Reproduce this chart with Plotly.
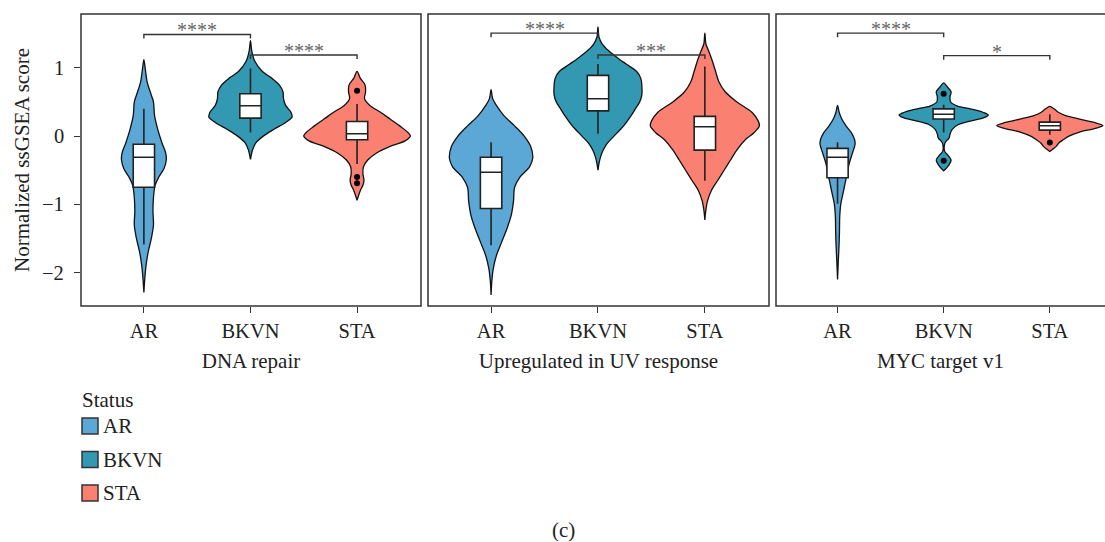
import plotly.graph_objects as go

# ---------------------------------------------------------------- data
GROUPS = ["AR", "BKVN", "STA"]
PANELS = ["DNA repair", "Upregulated in UV response", "MYC target v1"]
COLORS = {"AR": "#5BA7D6", "BKVN": "#3399B3", "STA": "#FA8072"}

Y_TICKS = [-2, -1, 0, 1]
Y_TITLE = "Normalized ssGSEA score"

# Violin outlines: (score, half-width in category units), top to bottom
DNA_AR = [(1.12, 0), (1.0, 0.012), (0.8, 0.03), (0.6, 0.07), (0.5, 0.09), (0.3, 0.10),
          (0.1, 0.13), (-0.1, 0.17), (-0.25, 0.205), (-0.35, 0.21), (-0.47, 0.19),
          (-0.6, 0.14), (-0.72, 0.105), (-0.9, 0.09), (-1.1, 0.085), (-1.3, 0.09),
          (-1.5, 0.07), (-1.7, 0.04), (-1.9, 0.02), (-2.1, 0.008), (-2.29, 0)]
DNA_BKVN = [(1.40, 0), (1.25, 0.012), (1.1, 0.04), (0.95, 0.11), (0.85, 0.20), (0.75, 0.27),
            (0.65, 0.305), (0.55, 0.31), (0.45, 0.33), (0.35, 0.38), (0.28, 0.39),
            (0.2, 0.33), (0.1, 0.22), (0.0, 0.12), (-0.1, 0.05), (-0.2, 0.02), (-0.34, 0)]
DNA_STA = [(0.95, 0), (0.85, 0.03), (0.75, 0.075), (0.65, 0.08), (0.55, 0.07), (0.45, 0.12),
           (0.35, 0.22), (0.25, 0.31), (0.15, 0.40), (0.05, 0.48), (0.0, 0.50),
           (-0.07, 0.45), (-0.15, 0.31), (-0.25, 0.18), (-0.35, 0.10), (-0.45, 0.06),
           (-0.55, 0.055), (-0.65, 0.065), (-0.72, 0.055), (-0.8, 0.03), (-0.94, 0)]

UV_AR = [(0.68, 0), (0.55, 0.015), (0.45, 0.05), (0.30, 0.12), (0.15, 0.22), (0.0, 0.31),
         (-0.15, 0.37), (-0.32, 0.39), (-0.45, 0.36), (-0.6, 0.27), (-0.75, 0.22),
         (-0.95, 0.21), (-1.15, 0.19), (-1.35, 0.15), (-1.55, 0.10), (-1.75, 0.05),
         (-1.95, 0.02), (-2.15, 0.006), (-2.33, 0)]
UV_BKVN = [(1.60, 0), (1.45, 0.01), (1.35, 0.04), (1.25, 0.10), (1.15, 0.18), (1.05, 0.27),
           (0.95, 0.36), (0.85, 0.40), (0.75, 0.41), (0.60, 0.41), (0.50, 0.39),
           (0.40, 0.35), (0.30, 0.31), (0.15, 0.24), (0.0, 0.15), (-0.1, 0.09),
           (-0.2, 0.05), (-0.3, 0.025), (-0.4, 0.01), (-0.50, 0)]
UV_STA = [(1.51, 0), (1.35, 0.01), (1.25, 0.035), (1.10, 0.07), (0.95, 0.10), (0.80, 0.13),
          (0.65, 0.19), (0.50, 0.30), (0.35, 0.44), (0.22, 0.50), (0.15, 0.51),
          (0.05, 0.46), (-0.05, 0.38), (-0.2, 0.30), (-0.35, 0.24), (-0.5, 0.18),
          (-0.65, 0.12), (-0.8, 0.06), (-0.95, 0.025), (-1.1, 0.008), (-1.23, 0)]

MYC_AR = [(0.45, 0), (0.35, 0.015), (0.25, 0.04), (0.15, 0.08), (0.05, 0.13), (-0.05, 0.16),
          (-0.12, 0.165), (-0.25, 0.14), (-0.40, 0.11), (-0.55, 0.09), (-0.7, 0.07),
          (-0.85, 0.05), (-1.0, 0.03), (-1.2, 0.02), (-1.4, 0.018), (-1.6, 0.014),
          (-1.8, 0.008), (-2.10, 0)]
MYC_BKVN = [(0.78, 0), (0.72, 0.035), (0.65, 0.07), (0.58, 0.06), (0.50, 0.065), (0.44, 0.13),
            (0.40, 0.25), (0.35, 0.37), (0.31, 0.42), (0.27, 0.38), (0.22, 0.25),
            (0.17, 0.14), (0.10, 0.08), (0.03, 0.06), (-0.03, 0.05), (-0.08, 0.02),
            (-0.12, 0.008), (-0.22, 0.008), (-0.28, 0.04), (-0.35, 0.07), (-0.42, 0.05),
            (-0.51, 0)]
MYC_STA = [(0.435, 0), (0.40, 0.04), (0.35, 0.08), (0.30, 0.15), (0.25, 0.28), (0.20, 0.42),
           (0.155, 0.50), (0.11, 0.42), (0.06, 0.28), (0.0, 0.18), (-0.05, 0.13),
           (-0.10, 0.085), (-0.15, 0.06), (-0.19, 0.03), (-0.225, 0)]

# Box summaries per panel, in GROUPS order
DNA_LOW = [-1.59, 0.054, -0.41]
DNA_Q1 = [-0.75, 0.264, -0.054]
DNA_MED = [-0.31, 0.445, 0.034]
DNA_Q3 = [-0.12, 0.62, 0.215]
DNA_HIGH = [0.40, 0.99, 0.47]

UV_LOW = [-1.60, 0.034, -0.655]
UV_Q1 = [-1.06, 0.37, -0.205]
UV_MED = [-0.53, 0.548, 0.137]
UV_Q3 = [-0.31, 0.89, 0.29]
UV_HIGH = [-0.09, 1.056, 1.02]

MYC_LOW = [-0.99, 0.054, 0.02]
MYC_Q1 = [-0.61, 0.25, 0.088]
MYC_MED = [-0.31, 0.32, 0.152]
MYC_Q3 = [-0.18, 0.40, 0.205]
MYC_HIGH = [-0.09, 0.46, 0.32]

# Outliers: (group, score)
DNA_OUT = [("STA", 0.665), ("STA", -0.60), ("STA", -0.69)]
UV_OUT = []
MYC_OUT = [("BKVN", 0.62), ("BKVN", -0.36), ("STA", -0.093)]

# Pairwise comparisons: (group a, group b, bracket level, label)
DNA_CMP = [("AR", "BKVN", 1.49, "****"), ("BKVN", "STA", 1.19, "****")]
UV_CMP = [("AR", "BKVN", 1.51, "****"), ("BKVN", "STA", 1.19, "***")]
MYC_CMP = [("AR", "BKVN", 1.51, "****"), ("BKVN", "STA", 1.18, "*")]

# ---------------------------------------------------------------- assembly
VIOLINS = [
    {"AR": DNA_AR, "BKVN": DNA_BKVN, "STA": DNA_STA},
    {"AR": UV_AR, "BKVN": UV_BKVN, "STA": UV_STA},
    {"AR": MYC_AR, "BKVN": MYC_BKVN, "STA": MYC_STA},
]
BOXES = [
    (DNA_LOW, DNA_Q1, DNA_MED, DNA_Q3, DNA_HIGH),
    (UV_LOW, UV_Q1, UV_MED, UV_Q3, UV_HIGH),
    (MYC_LOW, MYC_Q1, MYC_MED, MYC_Q3, MYC_HIGH),
]
OUTLIERS = [DNA_OUT, UV_OUT, MYC_OUT]
COMPARISONS = [DNA_CMP, UV_CMP, MYC_CMP]

W, H = 1105, 542
FONT = "Liberation Serif, Times New Roman, serif"
INK = "#222222"
FRAME = "#333333"
TICK_SIZE = 20.5
TITLE_SIZE = 21

# panel frames in pixels (left, right); the last panel runs off the page
PANEL_PX = [(81, 421), (428, 769), (776, 1105)]
X_RANGES = [[-0.59, 2.6], [-0.59, 2.6], [-0.58, 2.52]]
TOP_PX, BOTTOM_PX = 14, 306
Y_RANGE = [-2.49, 1.79]

fig = go.Figure()
pos = {g: i for i, g in enumerate(GROUPS)}


def ax_names(n):
    return ("x" if n == 1 else f"x{n}"), ("y" if n == 1 else f"y{n}")


def fmt(v):
    return f"\u2212{abs(v)}" if v < 0 else str(v)


for p in range(3):
    xa, ya = ax_names(p + 1)      # base subplot: violins and brackets
    xo, yo = ax_names(p + 4)      # overlaid subplot: boxes and outliers on top

    for g in GROUPS:
        prof = VIOLINS[p][g]
        ys = [pt[0] for pt in prof]
        ws = [pt[1] for pt in prof]
        c = pos[g]
        xs = [c + w for w in ws] + [c - w for w in reversed(ws)]
        yy = ys + ys[::-1]
        fig.add_trace(go.Scatter(
            x=xs, y=yy, mode="lines", fill="toself", fillcolor=COLORS[g],
            line=dict(color="#111111", width=1.3, shape="spline", smoothing=0.9),
            xaxis=xa, yaxis=ya, showlegend=False, hoverinfo="skip"))

    low, q1, med, q3, high = BOXES[p]
    fig.add_trace(go.Box(
        x=[0, 1, 2], q1=q1, median=med, q3=q3, lowerfence=low, upperfence=high,
        orientation="v", width=0.2, whiskerwidth=0, fillcolor="white",
        boxpoints=False, line=dict(color=INK, width=1.6), xaxis=xo, yaxis=yo,
        showlegend=False, hoverinfo="skip"))

    if OUTLIERS[p]:
        fig.add_trace(go.Scatter(
            x=[pos[g] for g, _ in OUTLIERS[p]], y=[v for _, v in OUTLIERS[p]],
            mode="markers", marker=dict(color="black", size=6),
            xaxis=xo, yaxis=yo, showlegend=False, hoverinfo="skip"))

    for a, b, lvl, lab in COMPARISONS[p]:
        xa0, xb0 = pos[a], pos[b]
        tip = 0.06
        fig.add_trace(go.Scatter(
            x=[xa0, xa0, xb0, xb0], y=[lvl - tip, lvl, lvl, lvl - tip],
            mode="lines", line=dict(color=FRAME, width=1.4),
            xaxis=xa, yaxis=ya, showlegend=False, hoverinfo="skip"))
        fig.add_annotation(
            x=(xa0 + xb0) / 2, y=lvl, xref=xa, yref=ya, text=lab, showarrow=False,
            yanchor="bottom", yshift=-9, font=dict(family=FONT, size=20, color="#666666"))

# ---------------------------------------------------------------- axes
y0 = 1 - BOTTOM_PX / H
y1 = 1 - TOP_PX / H
for p in range(3):
    l, r = PANEL_PX[p]
    dom = [l / W, min(r / W, 1.0)]
    xa, ya = ax_names(p + 1)
    xo, yo = ax_names(p + 4)
    key = "xaxis" if p == 0 else f"xaxis{p + 1}"
    ykey = "yaxis" if p == 0 else f"yaxis{p + 1}"
    fig.layout[key] = dict(
        domain=dom, range=X_RANGES[p],
        tickvals=[0, 1, 2], ticktext=GROUPS, ticks="outside", ticklen=6,
        tickwidth=1.3, tickcolor=FRAME, showgrid=False, zeroline=False,
        showline=False, anchor=ya,
        tickfont=dict(family=FONT, size=TICK_SIZE, color=INK),
        title=dict(text=PANELS[p], font=dict(family=FONT, size=TITLE_SIZE, color=INK),
                   standoff=12),
        fixedrange=True)
    fig.layout[ykey] = dict(
        domain=[y0, y1], range=Y_RANGE, showgrid=False, zeroline=False,
        showline=False, anchor=xa,
        tickvals=Y_TICKS if p == 0 else [], ticks="outside" if p == 0 else "",
        ticklen=6, tickwidth=1.3, tickcolor=FRAME, showticklabels=False,
        fixedrange=True)
    # overlaid twin axes with the same scales
    fig.layout[f"xaxis{p + 4}"] = dict(
        domain=dom, range=X_RANGES[p], overlaying=xa, anchor=yo, visible=False,
        fixedrange=True)
    fig.layout[f"yaxis{p + 4}"] = dict(
        domain=[y0, y1], range=Y_RANGE, overlaying=ya, anchor=xo, visible=False,
        fixedrange=True)
    # panel frame
    fig.add_shape(type="rect", xref="paper", yref="paper",
                  x0=l / W, x1=(r + (4 if p == 2 else 0)) / W, y0=y0, y1=y1,
                  line=dict(color=FRAME, width=1.5), layer="above")

# y tick labels, right-aligned against the ticks of the first panel
for v in Y_TICKS:
    fig.add_annotation(x=0, xref="x domain", y=v, yref="y", text=fmt(v),
                       showarrow=False, xanchor="right", yanchor="middle", xshift=-15,
                       font=dict(family=FONT, size=TICK_SIZE, color=INK))
fig.add_annotation(x=22 / W, xref="paper", y=(y0 + y1) / 2, yref="paper", text=Y_TITLE,
                   textangle=-90, showarrow=False, xanchor="center", yanchor="middle",
                   font=dict(family=FONT, size=TITLE_SIZE, color=INK))

# ---------------------------------------------------------------- legend
fig.add_annotation(x=80 / W, y=1 - 400 / H, xref="paper", yref="paper", text="Status",
                   showarrow=False, xanchor="left", yanchor="middle",
                   font=dict(family=FONT, size=TITLE_SIZE, color=INK))
for i, g in enumerate(GROUPS):
    cy = 426 + i * 33.5
    fig.add_shape(type="rect", xref="paper", yref="paper",
                  x0=82 / W, x1=98 / W, y0=1 - (cy + 8) / H, y1=1 - (cy - 8) / H,
                  fillcolor=COLORS[g], line=dict(color=FRAME, width=1.5))
    fig.add_annotation(x=101 / W, y=1 - cy / H, xref="paper", yref="paper", text=g,
                       showarrow=False, xanchor="left", yanchor="middle",
                       font=dict(family=FONT, size=TITLE_SIZE, color=INK))

fig.add_annotation(x=563 / W, y=1 - 530 / H, xref="paper", yref="paper", text="(c)",
                   showarrow=False, xanchor="center", yanchor="middle",
                   font=dict(family=FONT, size=TITLE_SIZE, color=INK))

fig.update_layout(
    width=W, height=H, margin=dict(l=0, r=0, t=0, b=0),
    paper_bgcolor="white", plot_bgcolor="white", showlegend=False,
    boxmode="overlay")

fig.write_html("out.html")
